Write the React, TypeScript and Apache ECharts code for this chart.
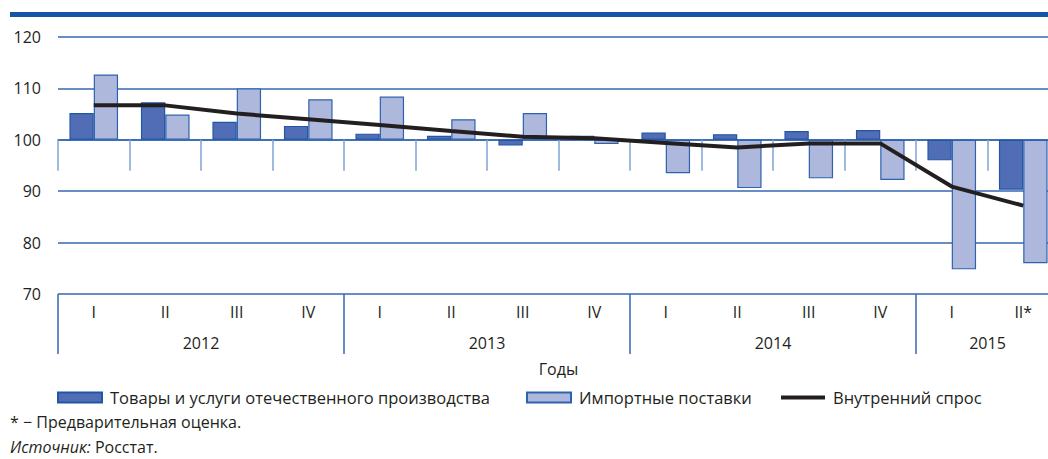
import React, { useEffect, useRef } from "react";
import * as echarts from "echarts";

const quarters = ["I", "II", "III", "IV", "I", "II", "III", "IV", "I", "II", "III", "IV", "I", "II*"];
const years = ["2012", "2013", "2014", "2015"];
const quartersPerYear = [4, 4, 4, 2];
const domestic = [105.2, 107.3, 103.5, 102.7, 101.2, 100.8, 98.9, 100.8, 101.4, 101.1, 101.7, 101.9, 96.0, 90.3];
const imports = [112.7, 104.9, 110.0, 107.9, 108.4, 104.0, 105.2, 99.2, 93.5, 90.6, 92.5, 92.2, 74.8, 76.0];
const demand = [106.7, 106.7, 105.1, 104.0, 102.9, 101.7, 100.6, 100.3, 99.4, 98.5, 99.3, 99.3, 90.9, 87.2];
const yTicks = { min: 70, max: 120, step: 10 };
const BASE = 100;

const seriesNames = ["Товары и услуги отечественного производства", "Импортные поставки", "Внутренний спрос"];

const FONT = "'Open Sans', 'Noto Sans', sans-serif";
const BLUE = "#3567B1";
const LIGHT_BLUE = "#7FA3D6";
const TEXT = "#231F20";

export default function App() {
  const ref = useRef<HTMLDivElement>(null);
  useEffect(() => {
    if (!ref.current) return;
    const chart = echarts.init(ref.current, undefined, { renderer: "svg" });

    const total = quartersPerYear.reduce((a, b) => a + b, 0);
    const yearSlots: string[] = new Array(total + 1).fill("");
    const yearBounds: number[] = [];
    let pos = 0;
    years.forEach((y, i) => {
      yearBounds.push(pos);
      yearSlots[Math.floor(pos + quartersPerYear[i] / 2)] = y;
      pos += quartersPerYear[i];
    });

    const shift = (arr: number[]) => arr.map((v) => +(v - BASE).toFixed(2));

    const legendBase = {
      top: 389,
      padding: 0,
      itemWidth: 44,
      itemHeight: 10,
      textStyle: { fontSize: 16.5, color: TEXT, fontFamily: FONT, padding: [0, 0, 0, 3] },
    };

    chart.setOption({
      animation: false,
      textStyle: { fontFamily: FONT },
      graphic: [
        { type: "rect", shape: { x: 10, y: 12, width: 1060, height: 5 }, style: { fill: "#1456A6" } },
        {
          type: "text",
          left: 10,
          top: 414,
          style: { text: "* − Предварительная оценка.", font: `16px ${FONT}`, fill: TEXT },
        },
        {
          type: "text",
          left: 10,
          top: 439,
          style: {
            text: "{i|Источник:} Росстат.",
            font: `16px ${FONT}`,
            fill: TEXT,
            rich: { i: { fontStyle: "italic", fontSize: 16, fontFamily: FONT, fill: TEXT } },
          },
        },
      ],
      legend: [
        { ...legendBase, left: 57, data: [{ name: seriesNames[0], icon: "rect" }] },
        { ...legendBase, left: 526, data: [{ name: seriesNames[1], icon: "rect" }] },
        {
          ...legendBase,
          left: 781,
          data: [{ name: seriesNames[2], icon: "path://M0 0M0 3H44V7H0Z M44 10" }],
        },
      ],
      grid: { left: 58, right: 0, top: 37, bottom: 165, containLabel: false, outerBoundsMode: "none" },
      xAxis: [
        {
          type: "category",
          data: quarters,
          boundaryGap: true,
          axisLine: { show: true, lineStyle: { color: BLUE, width: 1.5 } },
          axisTick: { show: true, interval: 0, length: 31, lineStyle: { color: LIGHT_BLUE, width: 1.5 } },
          axisLabel: { interval: 0, margin: 10, fontSize: 16, color: TEXT, fontFamily: FONT },
          splitLine: { show: false },
        },
        {
          type: "category",
          position: "bottom",
          data: yearSlots,
          boundaryGap: false,
          axisLine: { show: false },
          axisTick: {
            show: true,
            length: 60,
            interval: (idx: number) => yearBounds.indexOf(idx) >= 0,
            lineStyle: { color: BLUE, width: 1.5 },
          },
          axisLabel: { interval: 0, margin: 41, fontSize: 16, color: TEXT, fontFamily: FONT },
          name: "Годы",
          nameLocation: "middle",
          nameGap: 67,
          nameTextStyle: { fontSize: 16, color: TEXT, fontFamily: FONT },
        },
      ],
      yAxis: {
        type: "value",
        min: yTicks.min - BASE,
        max: yTicks.max - BASE,
        interval: yTicks.step,
        axisLine: { show: false },
        axisTick: { show: false },
        axisLabel: {
          margin: 17,
          fontSize: 16,
          color: TEXT,
          fontFamily: FONT,
          formatter: (v: number) => String(v + BASE),
        },
        splitLine: { show: true, lineStyle: { color: BLUE, width: 1.5 } },
      },
      series: [
        {
          name: seriesNames[0],
          type: "bar",
          data: shift(domestic),
          barGap: "0%",
          barCategoryGap: "32%",
          itemStyle: { color: "#516DB6", borderColor: "#2156A5", borderWidth: 1.2 },
        },
        {
          name: seriesNames[1],
          type: "bar",
          data: shift(imports),
          barGap: "0%",
          barCategoryGap: "32%",
          itemStyle: { color: "#AEB7DC", borderColor: "#2E62AE", borderWidth: 1.2 },
        },
        {
          name: seriesNames[2],
          type: "line",
          data: shift(demand),
          symbol: "none",
          showSymbol: false,
          z: 5,
          lineStyle: { color: TEXT, width: 4 },
          itemStyle: { color: TEXT },
        },
      ],
    });
    return () => chart.dispose();
  }, []);
  return (
    <div style={{ position: "absolute", left: 0, top: 0, width: 1048, height: 459, overflow: "hidden", background: "#fff" }}>
      <div ref={ref} style={{ width: 1059, height: 459 }} />
    </div>
  );
}
